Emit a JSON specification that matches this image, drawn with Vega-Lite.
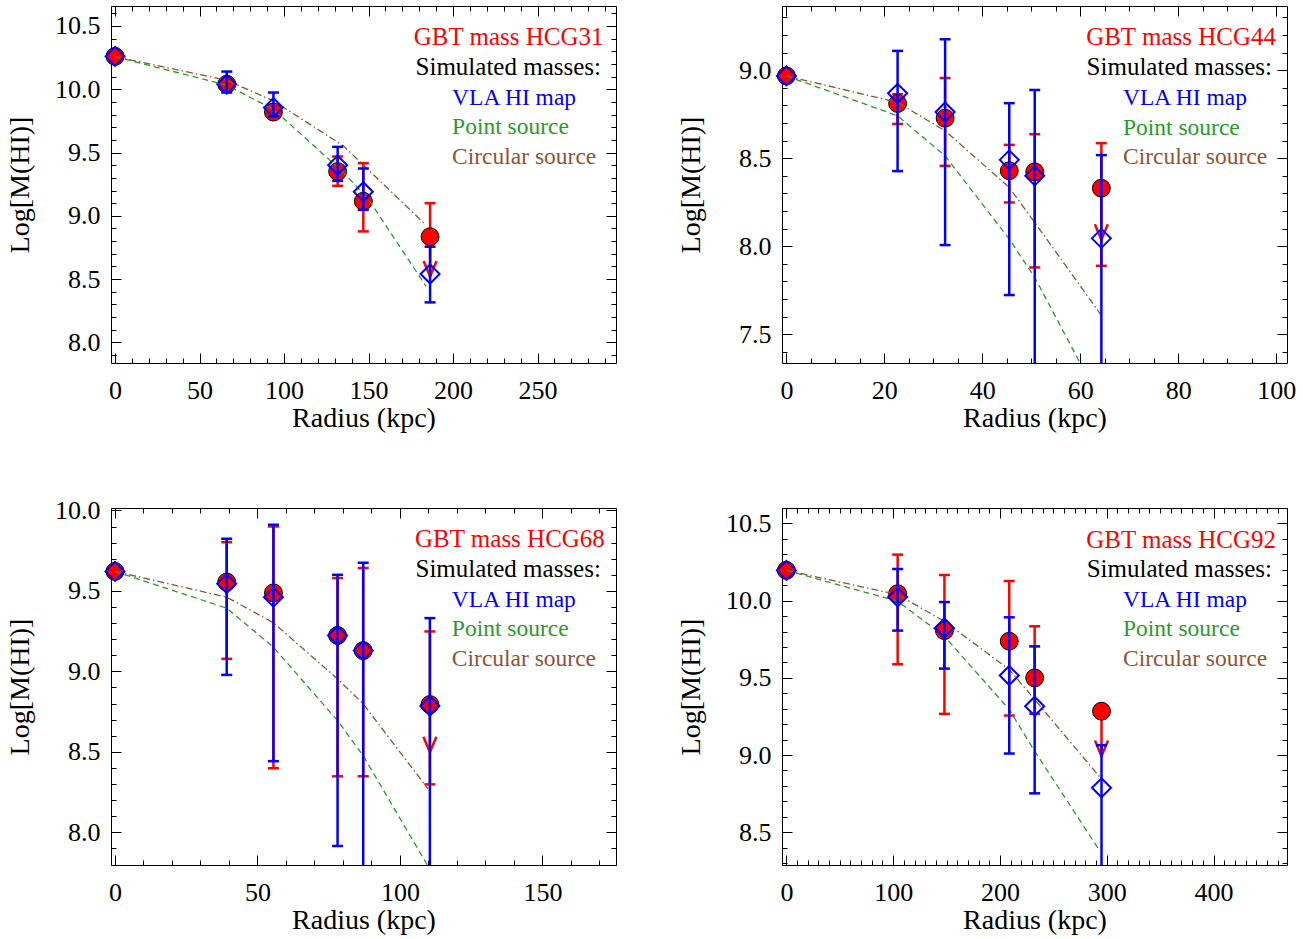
{
"$schema": "https://vega.github.io/schema/vega-lite/v6.json",
"background": "white",
"padding": {"left": 5, "top": 5, "right": 5, "bottom": 5},
"config": {
 "font": "Liberation Serif",
 "view": {"stroke": "black", "strokeWidth": 1},
 "style": {"guide-label": {"font": "Liberation Serif", "fontSize": 26, "fill": "black"}, "guide-title": {"font": "Liberation Serif", "fontSize": 28, "fill": "black"}},
 "axis": {"grid": false, "domain": false, "tickColor": "black", "tickWidth": 1, "labelFont": "Liberation Serif", "labelFontSize": 26, "labelColor": "black", "titleFont": "Liberation Serif", "titleFontSize": 28, "titleFontWeight": "normal", "titleColor": "black", "labelFlush": false, "labelOverlap": false}
},
"datasets": {
 "points": [
  {"g":"HCG31","src":"GBT","r":0,"y":10.26},{"g":"HCG31","src":"GBT","r":66.1,"y":10.04},{"g":"HCG31","src":"GBT","r":93.7,"y":9.82},{"g":"HCG31","src":"GBT","r":131.7,"y":9.35},{"g":"HCG31","src":"GBT","r":146.9,"y":9.115},{"g":"HCG31","src":"GBT","r":186.4,"y":8.835},
  {"g":"HCG31","src":"VLA","r":0,"y":10.26},{"g":"HCG31","src":"VLA","r":66.1,"y":10.04},{"g":"HCG31","src":"VLA","r":93.7,"y":9.855},{"g":"HCG31","src":"VLA","r":131.7,"y":9.40},{"g":"HCG31","src":"VLA","r":146.9,"y":9.19},{"g":"HCG31","src":"VLA","r":186.4,"y":8.54},
  {"g":"HCG44","src":"GBT","r":0,"y":8.968},{"g":"HCG44","src":"GBT","r":22.7,"y":8.811},{"g":"HCG44","src":"GBT","r":32.4,"y":8.728},{"g":"HCG44","src":"GBT","r":45.5,"y":8.429},{"g":"HCG44","src":"GBT","r":50.7,"y":8.423},{"g":"HCG44","src":"GBT","r":64.3,"y":8.33},
  {"g":"HCG44","src":"VLA","r":0,"y":8.968},{"g":"HCG44","src":"VLA","r":22.7,"y":8.869},{"g":"HCG44","src":"VLA","r":32.4,"y":8.763},{"g":"HCG44","src":"VLA","r":45.5,"y":8.491},{"g":"HCG44","src":"VLA","r":50.7,"y":8.40},{"g":"HCG44","src":"VLA","r":64.3,"y":8.045},
  {"g":"HCG68","src":"GBT","r":0,"y":9.621},{"g":"HCG68","src":"GBT","r":39.2,"y":9.555},{"g":"HCG68","src":"GBT","r":55.6,"y":9.488},{"g":"HCG68","src":"GBT","r":78.1,"y":9.223},{"g":"HCG68","src":"GBT","r":87.1,"y":9.129},{"g":"HCG68","src":"GBT","r":110.5,"y":8.794},
  {"g":"HCG68","src":"VLA","r":0,"y":9.621},{"g":"HCG68","src":"VLA","r":39.2,"y":9.545},{"g":"HCG68","src":"VLA","r":55.6,"y":9.461},{"g":"HCG68","src":"VLA","r":78.1,"y":9.223},{"g":"HCG68","src":"VLA","r":87.1,"y":9.129},{"g":"HCG68","src":"VLA","r":110.5,"y":8.785},
  {"g":"HCG92","src":"GBT","r":0,"y":10.196},{"g":"HCG92","src":"GBT","r":104.2,"y":10.045},{"g":"HCG92","src":"GBT","r":148,"y":9.806},{"g":"HCG92","src":"GBT","r":208.7,"y":9.737},{"g":"HCG92","src":"GBT","r":232.5,"y":9.5},{"g":"HCG92","src":"GBT","r":295.1,"y":9.284},
  {"g":"HCG92","src":"VLA","r":0,"y":10.196},{"g":"HCG92","src":"VLA","r":104.2,"y":10.024},{"g":"HCG92","src":"VLA","r":148,"y":9.823},{"g":"HCG92","src":"VLA","r":208.7,"y":9.515},{"g":"HCG92","src":"VLA","r":232.5,"y":9.316},{"g":"HCG92","src":"VLA","r":295.1,"y":8.788}
 ],
 "bars": [
  {"g":"HCG31","src":"GBT","r":131.7,"y":9.237,"y2":9.469},{"g":"HCG31","src":"GBT","r":146.9,"y":8.877,"y2":9.416},{"g":"HCG31","src":"GBT","r":186.4,"y":8.52,"y2":9.10},
  {"g":"HCG31","src":"VLA","r":66.1,"y":9.974,"y2":10.14},{"g":"HCG31","src":"VLA","r":93.7,"y":9.785,"y2":9.974},{"g":"HCG31","src":"VLA","r":131.7,"y":9.276,"y2":9.545},{"g":"HCG31","src":"VLA","r":146.9,"y":9.047,"y2":9.374},{"g":"HCG31","src":"VLA","r":186.4,"y":8.316,"y2":8.756},
  {"g":"HCG44","src":"GBT","r":22.7,"y":8.695,"y2":8.864},{"g":"HCG44","src":"GBT","r":32.4,"y":8.457,"y2":8.956},{"g":"HCG44","src":"GBT","r":45.5,"y":8.249,"y2":8.576},{"g":"HCG44","src":"GBT","r":50.7,"y":7.88,"y2":8.637},{"g":"HCG44","src":"GBT","r":64.3,"y":7.889,"y2":8.586},
  {"g":"HCG44","src":"VLA","r":22.7,"y":8.427,"y2":9.11},{"g":"HCG44","src":"VLA","r":32.4,"y":8.007,"y2":9.176},{"g":"HCG44","src":"VLA","r":45.5,"y":7.723,"y2":8.813},{"g":"HCG44","src":"VLA","r":50.7,"y":7.0,"y2":8.888},{"g":"HCG44","src":"VLA","r":64.3,"y":7.0,"y2":8.518},
  {"g":"HCG68","src":"GBT","r":39.2,"y":9.078,"y2":9.803},{"g":"HCG68","src":"GBT","r":55.6,"y":8.398,"y2":9.9},{"g":"HCG68","src":"GBT","r":78.1,"y":8.348,"y2":9.58},{"g":"HCG68","src":"GBT","r":87.1,"y":8.348,"y2":9.642},{"g":"HCG68","src":"GBT","r":110.5,"y":8.298,"y2":9.248},
  {"g":"HCG68","src":"VLA","r":39.2,"y":8.978,"y2":9.824},{"g":"HCG68","src":"VLA","r":55.6,"y":8.442,"y2":9.911},{"g":"HCG68","src":"VLA","r":78.1,"y":7.915,"y2":9.6},{"g":"HCG68","src":"VLA","r":87.1,"y":7.5,"y2":9.675},{"g":"HCG68","src":"VLA","r":110.5,"y":7.5,"y2":9.331},
  {"g":"HCG92","src":"GBT","r":104.2,"y":9.588,"y2":10.298},{"g":"HCG92","src":"GBT","r":148,"y":9.267,"y2":10.166},{"g":"HCG92","src":"GBT","r":208.7,"y":9.256,"y2":10.127},{"g":"HCG92","src":"GBT","r":232.5,"y":9.267,"y2":9.834},{"g":"HCG92","src":"GBT","r":295.1,"y":8.993,"y2":9.284},
  {"g":"HCG92","src":"VLA","r":104.2,"y":9.806,"y2":10.205},{"g":"HCG92","src":"VLA","r":148,"y":9.56,"y2":9.991},{"g":"HCG92","src":"VLA","r":208.7,"y":9.01,"y2":9.892},{"g":"HCG92","src":"VLA","r":232.5,"y":8.752,"y2":9.704},{"g":"HCG92","src":"VLA","r":295.1,"y":8.0,"y2":9.064}
 ],
 "caps": [
  {"g":"HCG31","src":"GBT","r":131.7,"y":9.237},{"g":"HCG31","src":"GBT","r":131.7,"y":9.469},{"g":"HCG31","src":"GBT","r":146.9,"y":8.877},{"g":"HCG31","src":"GBT","r":146.9,"y":9.416},{"g":"HCG31","src":"GBT","r":186.4,"y":9.10},
  {"g":"HCG31","src":"VLA","r":66.1,"y":9.974},{"g":"HCG31","src":"VLA","r":66.1,"y":10.14},{"g":"HCG31","src":"VLA","r":93.7,"y":9.785},{"g":"HCG31","src":"VLA","r":93.7,"y":9.974},{"g":"HCG31","src":"VLA","r":131.7,"y":9.276},{"g":"HCG31","src":"VLA","r":131.7,"y":9.545},{"g":"HCG31","src":"VLA","r":146.9,"y":9.047},{"g":"HCG31","src":"VLA","r":146.9,"y":9.374},{"g":"HCG31","src":"VLA","r":186.4,"y":8.316},{"g":"HCG31","src":"VLA","r":186.4,"y":8.756},
  {"g":"HCG44","src":"GBT","r":22.7,"y":8.695},{"g":"HCG44","src":"GBT","r":22.7,"y":8.864},{"g":"HCG44","src":"GBT","r":32.4,"y":8.457},{"g":"HCG44","src":"GBT","r":32.4,"y":8.956},{"g":"HCG44","src":"GBT","r":45.5,"y":8.249},{"g":"HCG44","src":"GBT","r":45.5,"y":8.576},{"g":"HCG44","src":"GBT","r":50.7,"y":7.88},{"g":"HCG44","src":"GBT","r":50.7,"y":8.637},{"g":"HCG44","src":"GBT","r":64.3,"y":7.889},{"g":"HCG44","src":"GBT","r":64.3,"y":8.586},
  {"g":"HCG44","src":"VLA","r":22.7,"y":8.427},{"g":"HCG44","src":"VLA","r":22.7,"y":9.11},{"g":"HCG44","src":"VLA","r":32.4,"y":8.007},{"g":"HCG44","src":"VLA","r":32.4,"y":9.176},{"g":"HCG44","src":"VLA","r":45.5,"y":7.723},{"g":"HCG44","src":"VLA","r":45.5,"y":8.813},{"g":"HCG44","src":"VLA","r":50.7,"y":8.888},{"g":"HCG44","src":"VLA","r":64.3,"y":8.518},
  {"g":"HCG68","src":"GBT","r":39.2,"y":9.078},{"g":"HCG68","src":"GBT","r":39.2,"y":9.803},{"g":"HCG68","src":"GBT","r":55.6,"y":8.398},{"g":"HCG68","src":"GBT","r":55.6,"y":9.9},{"g":"HCG68","src":"GBT","r":78.1,"y":8.348},{"g":"HCG68","src":"GBT","r":78.1,"y":9.58},{"g":"HCG68","src":"GBT","r":87.1,"y":8.348},{"g":"HCG68","src":"GBT","r":87.1,"y":9.642},{"g":"HCG68","src":"GBT","r":110.5,"y":8.298},{"g":"HCG68","src":"GBT","r":110.5,"y":9.248},
  {"g":"HCG68","src":"VLA","r":39.2,"y":8.978},{"g":"HCG68","src":"VLA","r":39.2,"y":9.824},{"g":"HCG68","src":"VLA","r":55.6,"y":8.442},{"g":"HCG68","src":"VLA","r":55.6,"y":9.911},{"g":"HCG68","src":"VLA","r":78.1,"y":7.915},{"g":"HCG68","src":"VLA","r":78.1,"y":9.6},{"g":"HCG68","src":"VLA","r":87.1,"y":9.675},{"g":"HCG68","src":"VLA","r":110.5,"y":9.331},
  {"g":"HCG92","src":"GBT","r":104.2,"y":9.588},{"g":"HCG92","src":"GBT","r":104.2,"y":10.298},{"g":"HCG92","src":"GBT","r":148,"y":9.267},{"g":"HCG92","src":"GBT","r":148,"y":10.166},{"g":"HCG92","src":"GBT","r":208.7,"y":9.256},{"g":"HCG92","src":"GBT","r":208.7,"y":10.127},{"g":"HCG92","src":"GBT","r":232.5,"y":9.267},{"g":"HCG92","src":"GBT","r":232.5,"y":9.834},
  {"g":"HCG92","src":"VLA","r":104.2,"y":9.806},{"g":"HCG92","src":"VLA","r":104.2,"y":10.205},{"g":"HCG92","src":"VLA","r":148,"y":9.56},{"g":"HCG92","src":"VLA","r":148,"y":9.991},{"g":"HCG92","src":"VLA","r":208.7,"y":9.01},{"g":"HCG92","src":"VLA","r":208.7,"y":9.892},{"g":"HCG92","src":"VLA","r":232.5,"y":8.752},{"g":"HCG92","src":"VLA","r":232.5,"y":9.704},{"g":"HCG92","src":"VLA","r":295.1,"y":9.064}
 ],
 "arrows": [
  {"g":"HCG31","r":186.4,"y":8.52},{"g":"HCG44","r":64.3,"y":8.037},{"g":"HCG68","r":110.5,"y":8.497},{"g":"HCG92","r":295.1,"y":8.993}
 ],
 "curves": [
  {"g":"HCG31","model":"circular","r":0,"y":10.258},{"g":"HCG31","model":"circular","r":66.1,"y":10.071},{"g":"HCG31","model":"circular","r":93.7,"y":9.908},{"g":"HCG31","model":"circular","r":135.1,"y":9.553},{"g":"HCG31","model":"circular","r":149.9,"y":9.363},{"g":"HCG31","model":"circular","r":183.4,"y":8.934},
  {"g":"HCG31","model":"point","r":0,"y":10.258},{"g":"HCG31","model":"point","r":66.1,"y":10.032},{"g":"HCG31","model":"point","r":93.7,"y":9.842},{"g":"HCG31","model":"point","r":135.1,"y":9.343},{"g":"HCG31","model":"point","r":149.9,"y":9.132},{"g":"HCG31","model":"point","r":184,"y":8.443},
  {"g":"HCG44","model":"circular","r":0,"y":8.968},{"g":"HCG44","model":"circular","r":22.7,"y":8.817},{"g":"HCG44","model":"circular","r":32.4,"y":8.656},{"g":"HCG44","model":"circular","r":45.5,"y":8.334},{"g":"HCG44","model":"circular","r":51.2,"y":8.116},{"g":"HCG44","model":"circular","r":64.1,"y":7.615},
  {"g":"HCG44","model":"point","r":0,"y":8.968},{"g":"HCG44","model":"point","r":22.7,"y":8.741},{"g":"HCG44","model":"point","r":32.4,"y":8.514},{"g":"HCG44","model":"point","r":45.5,"y":8.041},{"g":"HCG44","model":"point","r":50.7,"y":7.823},{"g":"HCG44","model":"point","r":64.1,"y":7.12},
  {"g":"HCG68","model":"circular","r":0,"y":9.621},{"g":"HCG68","model":"circular","r":39.2,"y":9.461},{"g":"HCG68","model":"circular","r":55.6,"y":9.302},{"g":"HCG68","model":"circular","r":78.1,"y":8.953},{"g":"HCG68","model":"circular","r":87.1,"y":8.798},{"g":"HCG68","model":"circular","r":109.9,"y":8.269},
  {"g":"HCG68","model":"point","r":0,"y":9.621},{"g":"HCG68","model":"point","r":39.2,"y":9.393},{"g":"HCG68","model":"point","r":55.6,"y":9.15},{"g":"HCG68","model":"point","r":78.1,"y":8.694},{"g":"HCG68","model":"point","r":87.1,"y":8.476},{"g":"HCG68","model":"point","r":110.5,"y":7.77},
  {"g":"HCG92","model":"circular","r":0,"y":10.196},{"g":"HCG92","model":"circular","r":104.2,"y":10.039},{"g":"HCG92","model":"circular","r":148,"y":9.866},{"g":"HCG92","model":"circular","r":208.7,"y":9.554},{"g":"HCG92","model":"circular","r":232.5,"y":9.36},{"g":"HCG92","model":"circular","r":294.1,"y":8.853},
  {"g":"HCG92","model":"point","r":0,"y":10.196},{"g":"HCG92","model":"point","r":104.2,"y":9.996},{"g":"HCG92","model":"point","r":148,"y":9.769},{"g":"HCG92","model":"point","r":208.7,"y":9.295},{"g":"HCG92","model":"point","r":232.5,"y":9.025},{"g":"HCG92","model":"point","r":292.6,"y":8.389}
 ]
},
"columns": 2,
"spacing": {"row": 145, "column": 166},
"bounds": "flush",
"concat": [
 {
  "width": 505, "height": 357,
  "resolve": {"axis": {"x": "independent", "y": "independent"}},
  "layer": [
   {"data": {"name": "bars"}, "transform": [{"filter": "datum.g==='HCG31' && datum.src==='GBT'"}],
    "mark": {"type": "rule", "color": "red", "strokeWidth": 2.5, "clip": true},
    "encoding": {
     "x": {"field": "r", "type": "quantitative", "scale": {"domain": [-2.4, 296.4], "nice": false, "zero": false}, "axis": {"orient": "bottom", "values": [0,50,100,150,200,250], "format": "d", "tickSize": -10, "labelPadding": 24, "title": "Radius (kpc)", "titlePadding": 11, "minExtent": 30, "maxExtent": 30}},
     "y": {"field": "y", "type": "quantitative", "scale": {"domain": [7.837, 10.658], "nice": false, "zero": false}, "axis": {"orient": "left", "values": [8.0,8.5,9.0,9.5,10.0,10.5], "format": ".1f", "tickSize": -10, "labelPadding": 21, "title": "Log[M(HI)]", "titlePadding": 19, "minExtent": 58, "maxExtent": 58}},
     "y2": {"field": "y2"}
    }},
   {"data": {"name": "caps"}, "transform": [{"filter": "datum.g==='HCG31' && datum.src==='GBT'"}],
    "mark": {"type": "tick", "orient": "horizontal", "color": "red", "size": 11, "thickness": 2.5, "opacity": 1, "clip": true},
    "encoding": {
     "x": {"field": "r", "type": "quantitative", "scale": {"domain": [-2.4, 296.4], "nice": false, "zero": false}, "axis": {"orient": "bottom", "values": [0,10,20,30,40,50,60,70,80,90,100,110,120,130,140,150,160,170,180,190,200,210,220,230,240,250,260,270,280,290], "tickSize": -5, "labels": false, "title": null}},
     "y": {"field": "y", "type": "quantitative", "scale": {"domain": [7.837, 10.658], "nice": false, "zero": false}, "axis": {"orient": "left", "values": [7.9,8.0,8.1,8.2,8.3,8.4,8.5,8.6,8.7,8.8,8.9,9.0,9.1,9.2,9.3,9.4,9.5,9.6,9.7,9.8,9.9,10.0,10.1,10.2,10.3,10.4,10.5,10.6], "tickSize": -5, "labels": false, "title": null}}
    }},
   {"data": {"name": "arrows"}, "transform": [{"filter": "datum.g==='HCG31'"}],
    "mark": {"type": "point", "shape": "M-1,-2.4L0,0L1,-2.4", "filled": false, "stroke": "red", "strokeWidth": 2.5, "size": 169, "opacity": 1},
    "encoding": {
     "x": {"field": "r", "type": "quantitative", "scale": {"domain": [-2.4, 296.4], "nice": false, "zero": false}, "axis": {"orient": "top", "values": [0,50,100,150,200,250], "tickSize": -10, "labels": false, "title": null}},
     "y": {"field": "y", "type": "quantitative", "scale": {"domain": [7.837, 10.658], "nice": false, "zero": false}, "axis": {"orient": "right", "values": [8.0,8.5,9.0,9.5,10.0,10.5], "tickSize": -10, "labels": false, "title": null}}
    }},
   {"data": {"name": "points"}, "transform": [{"filter": "datum.g==='HCG31' && datum.src==='GBT'"}],
    "mark": {"type": "point", "shape": "circle", "filled": true, "fill": "red", "stroke": "black", "strokeWidth": 1, "size": 320, "opacity": 1},
    "encoding": {
     "x": {"field": "r", "type": "quantitative", "scale": {"domain": [-2.4, 296.4], "nice": false, "zero": false}, "axis": {"orient": "top", "values": [0,10,20,30,40,50,60,70,80,90,100,110,120,130,140,150,160,170,180,190,200,210,220,230,240,250,260,270,280,290], "tickSize": -5, "labels": false, "title": null}},
     "y": {"field": "y", "type": "quantitative", "scale": {"domain": [7.837, 10.658], "nice": false, "zero": false}, "axis": {"orient": "right", "values": [7.9,8.0,8.1,8.2,8.3,8.4,8.5,8.6,8.7,8.8,8.9,9.0,9.1,9.2,9.3,9.4,9.5,9.6,9.7,9.8,9.9,10.0,10.1,10.2,10.3,10.4,10.5,10.6], "tickSize": -5, "labels": false, "title": null}}
    }},
   {"data": {"name": "curves"}, "transform": [{"filter": "datum.g==='HCG31' && datum.model==='point'"}],
    "mark": {"type": "line", "color": "#2a9a2a", "strokeWidth": 1.3, "strokeDash": [6, 4], "clip": true},
    "encoding": {"x": {"field": "r", "type": "quantitative", "scale": {"domain": [-2.4, 296.4], "nice": false, "zero": false}, "axis": null}, "y": {"field": "y", "type": "quantitative", "scale": {"domain": [7.837, 10.658], "nice": false, "zero": false}, "axis": null}}},
   {"data": {"name": "curves"}, "transform": [{"filter": "datum.g==='HCG31' && datum.model==='circular'"}],
    "mark": {"type": "line", "color": "#8e5434", "strokeWidth": 1.3, "strokeDash": [7, 3, 1.5, 3], "clip": true},
    "encoding": {"x": {"field": "r", "type": "quantitative", "scale": {"domain": [-2.4, 296.4], "nice": false, "zero": false}, "axis": null}, "y": {"field": "y", "type": "quantitative", "scale": {"domain": [7.837, 10.658], "nice": false, "zero": false}, "axis": null}}},
   {"data": {"name": "bars"}, "transform": [{"filter": "datum.g==='HCG31' && datum.src==='VLA'"}],
    "mark": {"type": "rule", "color": "blue", "strokeWidth": 2.5, "clip": true},
    "encoding": {"x": {"field": "r", "type": "quantitative", "scale": {"domain": [-2.4, 296.4], "nice": false, "zero": false}, "axis": null}, "y": {"field": "y", "type": "quantitative", "scale": {"domain": [7.837, 10.658], "nice": false, "zero": false}, "axis": null}, "y2": {"field": "y2"}}},
   {"data": {"name": "caps"}, "transform": [{"filter": "datum.g==='HCG31' && datum.src==='VLA'"}],
    "mark": {"type": "tick", "orient": "horizontal", "color": "blue", "size": 11, "thickness": 2.5, "opacity": 1, "clip": true},
    "encoding": {"x": {"field": "r", "type": "quantitative", "scale": {"domain": [-2.4, 296.4], "nice": false, "zero": false}, "axis": null}, "y": {"field": "y", "type": "quantitative", "scale": {"domain": [7.837, 10.658], "nice": false, "zero": false}, "axis": null}}},
   {"data": {"name": "points"}, "transform": [{"filter": "datum.g==='HCG31' && datum.src==='VLA'"}],
    "mark": {"type": "point", "shape": "diamond", "filled": false, "stroke": "blue", "strokeWidth": 2, "size": 361, "opacity": 1},
    "encoding": {"x": {"field": "r", "type": "quantitative", "scale": {"domain": [-2.4, 296.4], "nice": false, "zero": false}, "axis": null}, "y": {"field": "y", "type": "quantitative", "scale": {"domain": [7.837, 10.658], "nice": false, "zero": false}, "axis": null}}},
   {"data": {"values": [{"label": "GBT mass HCG31"}]},
    "mark": {"type": "text", "align": "right", "baseline": "alphabetic", "font": "Liberation Serif", "fontSize": 25, "fill": "red"},
    "encoding": {"x": {"datum": 289.0, "type": "quantitative", "axis": null}, "y": {"datum": 10.346, "type": "quantitative", "axis": null}, "text": {"field": "label", "type": "nominal"}}},
   {"data": {"values": [{"label": "Simulated masses:"}]},
    "mark": {"type": "text", "align": "right", "baseline": "alphabetic", "font": "Liberation Serif", "fontSize": 25, "fill": "black"},
    "encoding": {"x": {"datum": 287.5, "type": "quantitative", "axis": null}, "y": {"datum": 10.113, "type": "quantitative", "axis": null}, "text": {"field": "label", "type": "nominal"}}},
   {"data": {"values": [{"label": "VLA HI map"}]},
    "mark": {"type": "text", "align": "left", "baseline": "alphabetic", "font": "Liberation Serif", "fontSize": 23.5, "fill": "blue"},
    "encoding": {"x": {"datum": 199.4, "type": "quantitative", "axis": null}, "y": {"datum": 9.876, "type": "quantitative", "axis": null}, "text": {"field": "label", "type": "nominal"}}},
   {"data": {"values": [{"label": "Point source"}]},
    "mark": {"type": "text", "align": "left", "baseline": "alphabetic", "font": "Liberation Serif", "fontSize": 23.5, "fill": "#2a9a2a"},
    "encoding": {"x": {"datum": 199.4, "type": "quantitative", "axis": null}, "y": {"datum": 9.643, "type": "quantitative", "axis": null}, "text": {"field": "label", "type": "nominal"}}},
   {"data": {"values": [{"label": "Circular source"}]},
    "mark": {"type": "text", "align": "left", "baseline": "alphabetic", "font": "Liberation Serif", "fontSize": 23.5, "fill": "#8e5434"},
    "encoding": {"x": {"datum": 199.4, "type": "quantitative", "axis": null}, "y": {"datum": 9.409, "type": "quantitative", "axis": null}, "text": {"field": "label", "type": "nominal"}}}
  ]
 },
 {
  "width": 505, "height": 357,
  "resolve": {"axis": {"x": "independent", "y": "independent"}},
  "layer": [
   {"data": {"name": "bars"}, "transform": [{"filter": "datum.g==='HCG44' && datum.src==='GBT'"}],
    "mark": {"type": "rule", "color": "red", "strokeWidth": 2.5, "clip": true},
    "encoding": {
     "x": {"field": "r", "type": "quantitative", "scale": {"domain": [-0.9, 102.2], "nice": false, "zero": false}, "axis": {"orient": "bottom", "values": [0,20,40,60,80,100], "format": "d", "tickSize": -10, "labelPadding": 24, "title": "Radius (kpc)", "titlePadding": 11, "minExtent": 30, "maxExtent": 30}},
     "y": {"field": "y", "type": "quantitative", "scale": {"domain": [7.337, 9.365], "nice": false, "zero": false}, "axis": {"orient": "left", "values": [7.5,8.0,8.5,9.0], "format": ".1f", "tickSize": -10, "labelPadding": 21, "title": "Log[M(HI)]", "titlePadding": 19, "minExtent": 58, "maxExtent": 58}},
     "y2": {"field": "y2"}
    }},
   {"data": {"name": "caps"}, "transform": [{"filter": "datum.g==='HCG44' && datum.src==='GBT'"}],
    "mark": {"type": "tick", "orient": "horizontal", "color": "red", "size": 11, "thickness": 2.5, "opacity": 1, "clip": true},
    "encoding": {
     "x": {"field": "r", "type": "quantitative", "scale": {"domain": [-0.9, 102.2], "nice": false, "zero": false}, "axis": {"orient": "bottom", "values": [0,5,10,15,20,25,30,35,40,45,50,55,60,65,70,75,80,85,90,95,100], "tickSize": -5, "labels": false, "title": null}},
     "y": {"field": "y", "type": "quantitative", "scale": {"domain": [7.337, 9.365], "nice": false, "zero": false}, "axis": {"orient": "left", "values": [7.4,7.5,7.6,7.7,7.8,7.9,8.0,8.1,8.2,8.3,8.4,8.5,8.6,8.7,8.8,8.9,9.0,9.1,9.2,9.3], "tickSize": -5, "labels": false, "title": null}}
    }},
   {"data": {"name": "arrows"}, "transform": [{"filter": "datum.g==='HCG44'"}],
    "mark": {"type": "point", "shape": "M-1,-2.4L0,0L1,-2.4", "filled": false, "stroke": "red", "strokeWidth": 2.5, "size": 169, "opacity": 1},
    "encoding": {
     "x": {"field": "r", "type": "quantitative", "scale": {"domain": [-0.9, 102.2], "nice": false, "zero": false}, "axis": {"orient": "top", "values": [0,20,40,60,80,100], "tickSize": -10, "labels": false, "title": null}},
     "y": {"field": "y", "type": "quantitative", "scale": {"domain": [7.337, 9.365], "nice": false, "zero": false}, "axis": {"orient": "right", "values": [7.5,8.0,8.5,9.0], "tickSize": -10, "labels": false, "title": null}}
    }},
   {"data": {"name": "points"}, "transform": [{"filter": "datum.g==='HCG44' && datum.src==='GBT'"}],
    "mark": {"type": "point", "shape": "circle", "filled": true, "fill": "red", "stroke": "black", "strokeWidth": 1, "size": 320, "opacity": 1},
    "encoding": {
     "x": {"field": "r", "type": "quantitative", "scale": {"domain": [-0.9, 102.2], "nice": false, "zero": false}, "axis": {"orient": "top", "values": [0,5,10,15,20,25,30,35,40,45,50,55,60,65,70,75,80,85,90,95,100], "tickSize": -5, "labels": false, "title": null}},
     "y": {"field": "y", "type": "quantitative", "scale": {"domain": [7.337, 9.365], "nice": false, "zero": false}, "axis": {"orient": "right", "values": [7.4,7.5,7.6,7.7,7.8,7.9,8.0,8.1,8.2,8.3,8.4,8.5,8.6,8.7,8.8,8.9,9.0,9.1,9.2,9.3], "tickSize": -5, "labels": false, "title": null}}
    }},
   {"data": {"name": "curves"}, "transform": [{"filter": "datum.g==='HCG44' && datum.model==='point'"}],
    "mark": {"type": "line", "color": "#2a9a2a", "strokeWidth": 1.3, "strokeDash": [6, 4], "clip": true},
    "encoding": {"x": {"field": "r", "type": "quantitative", "scale": {"domain": [-0.9, 102.2], "nice": false, "zero": false}, "axis": null}, "y": {"field": "y", "type": "quantitative", "scale": {"domain": [7.337, 9.365], "nice": false, "zero": false}, "axis": null}}},
   {"data": {"name": "curves"}, "transform": [{"filter": "datum.g==='HCG44' && datum.model==='circular'"}],
    "mark": {"type": "line", "color": "#8e5434", "strokeWidth": 1.3, "strokeDash": [7, 3, 1.5, 3], "clip": true},
    "encoding": {"x": {"field": "r", "type": "quantitative", "scale": {"domain": [-0.9, 102.2], "nice": false, "zero": false}, "axis": null}, "y": {"field": "y", "type": "quantitative", "scale": {"domain": [7.337, 9.365], "nice": false, "zero": false}, "axis": null}}},
   {"data": {"name": "bars"}, "transform": [{"filter": "datum.g==='HCG44' && datum.src==='VLA'"}],
    "mark": {"type": "rule", "color": "blue", "strokeWidth": 2.5, "clip": true},
    "encoding": {"x": {"field": "r", "type": "quantitative", "scale": {"domain": [-0.9, 102.2], "nice": false, "zero": false}, "axis": null}, "y": {"field": "y", "type": "quantitative", "scale": {"domain": [7.337, 9.365], "nice": false, "zero": false}, "axis": null}, "y2": {"field": "y2"}}},
   {"data": {"name": "caps"}, "transform": [{"filter": "datum.g==='HCG44' && datum.src==='VLA'"}],
    "mark": {"type": "tick", "orient": "horizontal", "color": "blue", "size": 11, "thickness": 2.5, "opacity": 1, "clip": true},
    "encoding": {"x": {"field": "r", "type": "quantitative", "scale": {"domain": [-0.9, 102.2], "nice": false, "zero": false}, "axis": null}, "y": {"field": "y", "type": "quantitative", "scale": {"domain": [7.337, 9.365], "nice": false, "zero": false}, "axis": null}}},
   {"data": {"name": "points"}, "transform": [{"filter": "datum.g==='HCG44' && datum.src==='VLA'"}],
    "mark": {"type": "point", "shape": "diamond", "filled": false, "stroke": "blue", "strokeWidth": 2, "size": 361, "opacity": 1},
    "encoding": {"x": {"field": "r", "type": "quantitative", "scale": {"domain": [-0.9, 102.2], "nice": false, "zero": false}, "axis": null}, "y": {"field": "y", "type": "quantitative", "scale": {"domain": [7.337, 9.365], "nice": false, "zero": false}, "axis": null}}},
   {"data": {"values": [{"label": "GBT mass HCG44"}]},
    "mark": {"type": "text", "align": "right", "baseline": "alphabetic", "font": "Liberation Serif", "fontSize": 25, "fill": "red"},
    "encoding": {"x": {"datum": 99.95, "type": "quantitative", "axis": null}, "y": {"datum": 9.141, "type": "quantitative", "axis": null}, "text": {"field": "label", "type": "nominal"}}},
   {"data": {"values": [{"label": "Simulated masses:"}]},
    "mark": {"type": "text", "align": "right", "baseline": "alphabetic", "font": "Liberation Serif", "fontSize": 25, "fill": "black"},
    "encoding": {"x": {"datum": 99.14, "type": "quantitative", "axis": null}, "y": {"datum": 8.973, "type": "quantitative", "axis": null}, "text": {"field": "label", "type": "nominal"}}},
   {"data": {"values": [{"label": "VLA HI map"}]},
    "mark": {"type": "text", "align": "left", "baseline": "alphabetic", "font": "Liberation Serif", "fontSize": 23.5, "fill": "blue"},
    "encoding": {"x": {"datum": 68.71, "type": "quantitative", "axis": null}, "y": {"datum": 8.803, "type": "quantitative", "axis": null}, "text": {"field": "label", "type": "nominal"}}},
   {"data": {"values": [{"label": "Point source"}]},
    "mark": {"type": "text", "align": "left", "baseline": "alphabetic", "font": "Liberation Serif", "fontSize": 23.5, "fill": "#2a9a2a"},
    "encoding": {"x": {"datum": 68.71, "type": "quantitative", "axis": null}, "y": {"datum": 8.635, "type": "quantitative", "axis": null}, "text": {"field": "label", "type": "nominal"}}},
   {"data": {"values": [{"label": "Circular source"}]},
    "mark": {"type": "text", "align": "left", "baseline": "alphabetic", "font": "Liberation Serif", "fontSize": 23.5, "fill": "#8e5434"},
    "encoding": {"x": {"datum": 68.71, "type": "quantitative", "axis": null}, "y": {"datum": 8.468, "type": "quantitative", "axis": null}, "text": {"field": "label", "type": "nominal"}}}
  ]
 },
 {
  "width": 505, "height": 357,
  "resolve": {"axis": {"x": "independent", "y": "independent"}},
  "layer": [
   {"data": {"name": "bars"}, "transform": [{"filter": "datum.g==='HCG68' && datum.src==='GBT'"}],
    "mark": {"type": "rule", "color": "red", "strokeWidth": 2.5, "clip": true},
    "encoding": {
     "x": {"field": "r", "type": "quantitative", "scale": {"domain": [-1.4, 175.8], "nice": false, "zero": false}, "axis": {"orient": "bottom", "values": [0,50,100,150], "format": "d", "tickSize": -10, "labelPadding": 24, "title": "Radius (kpc)", "titlePadding": 11, "minExtent": 30, "maxExtent": 30}},
     "y": {"field": "y", "type": "quantitative", "scale": {"domain": [7.797, 10.015], "nice": false, "zero": false}, "axis": {"orient": "left", "values": [8.0,8.5,9.0,9.5,10.0], "format": ".1f", "tickSize": -10, "labelPadding": 21, "title": "Log[M(HI)]", "titlePadding": 19, "minExtent": 58, "maxExtent": 58}},
     "y2": {"field": "y2"}
    }},
   {"data": {"name": "caps"}, "transform": [{"filter": "datum.g==='HCG68' && datum.src==='GBT'"}],
    "mark": {"type": "tick", "orient": "horizontal", "color": "red", "size": 11, "thickness": 2.5, "opacity": 1, "clip": true},
    "encoding": {
     "x": {"field": "r", "type": "quantitative", "scale": {"domain": [-1.4, 175.8], "nice": false, "zero": false}, "axis": {"orient": "bottom", "values": [0,10,20,30,40,50,60,70,80,90,100,110,120,130,140,150,160,170], "tickSize": -5, "labels": false, "title": null}},
     "y": {"field": "y", "type": "quantitative", "scale": {"domain": [7.797, 10.015], "nice": false, "zero": false}, "axis": {"orient": "left", "values": [7.8,7.9,8.0,8.1,8.2,8.3,8.4,8.5,8.6,8.7,8.8,8.9,9.0,9.1,9.2,9.3,9.4,9.5,9.6,9.7,9.8,9.9,10.0], "tickSize": -5, "labels": false, "title": null}}
    }},
   {"data": {"name": "arrows"}, "transform": [{"filter": "datum.g==='HCG68'"}],
    "mark": {"type": "point", "shape": "M-1,-2.4L0,0L1,-2.4", "filled": false, "stroke": "red", "strokeWidth": 2.5, "size": 169, "opacity": 1},
    "encoding": {
     "x": {"field": "r", "type": "quantitative", "scale": {"domain": [-1.4, 175.8], "nice": false, "zero": false}, "axis": {"orient": "top", "values": [0,50,100,150], "tickSize": -10, "labels": false, "title": null}},
     "y": {"field": "y", "type": "quantitative", "scale": {"domain": [7.797, 10.015], "nice": false, "zero": false}, "axis": {"orient": "right", "values": [8.0,8.5,9.0,9.5,10.0], "tickSize": -10, "labels": false, "title": null}}
    }},
   {"data": {"name": "points"}, "transform": [{"filter": "datum.g==='HCG68' && datum.src==='GBT'"}],
    "mark": {"type": "point", "shape": "circle", "filled": true, "fill": "red", "stroke": "black", "strokeWidth": 1, "size": 320, "opacity": 1},
    "encoding": {
     "x": {"field": "r", "type": "quantitative", "scale": {"domain": [-1.4, 175.8], "nice": false, "zero": false}, "axis": {"orient": "top", "values": [0,10,20,30,40,50,60,70,80,90,100,110,120,130,140,150,160,170], "tickSize": -5, "labels": false, "title": null}},
     "y": {"field": "y", "type": "quantitative", "scale": {"domain": [7.797, 10.015], "nice": false, "zero": false}, "axis": {"orient": "right", "values": [7.8,7.9,8.0,8.1,8.2,8.3,8.4,8.5,8.6,8.7,8.8,8.9,9.0,9.1,9.2,9.3,9.4,9.5,9.6,9.7,9.8,9.9,10.0], "tickSize": -5, "labels": false, "title": null}}
    }},
   {"data": {"name": "curves"}, "transform": [{"filter": "datum.g==='HCG68' && datum.model==='point'"}],
    "mark": {"type": "line", "color": "#2a9a2a", "strokeWidth": 1.3, "strokeDash": [6, 4], "clip": true},
    "encoding": {"x": {"field": "r", "type": "quantitative", "scale": {"domain": [-1.4, 175.8], "nice": false, "zero": false}, "axis": null}, "y": {"field": "y", "type": "quantitative", "scale": {"domain": [7.797, 10.015], "nice": false, "zero": false}, "axis": null}}},
   {"data": {"name": "curves"}, "transform": [{"filter": "datum.g==='HCG68' && datum.model==='circular'"}],
    "mark": {"type": "line", "color": "#8e5434", "strokeWidth": 1.3, "strokeDash": [7, 3, 1.5, 3], "clip": true},
    "encoding": {"x": {"field": "r", "type": "quantitative", "scale": {"domain": [-1.4, 175.8], "nice": false, "zero": false}, "axis": null}, "y": {"field": "y", "type": "quantitative", "scale": {"domain": [7.797, 10.015], "nice": false, "zero": false}, "axis": null}}},
   {"data": {"name": "bars"}, "transform": [{"filter": "datum.g==='HCG68' && datum.src==='VLA'"}],
    "mark": {"type": "rule", "color": "blue", "strokeWidth": 2.5, "clip": true},
    "encoding": {"x": {"field": "r", "type": "quantitative", "scale": {"domain": [-1.4, 175.8], "nice": false, "zero": false}, "axis": null}, "y": {"field": "y", "type": "quantitative", "scale": {"domain": [7.797, 10.015], "nice": false, "zero": false}, "axis": null}, "y2": {"field": "y2"}}},
   {"data": {"name": "caps"}, "transform": [{"filter": "datum.g==='HCG68' && datum.src==='VLA'"}],
    "mark": {"type": "tick", "orient": "horizontal", "color": "blue", "size": 11, "thickness": 2.5, "opacity": 1, "clip": true},
    "encoding": {"x": {"field": "r", "type": "quantitative", "scale": {"domain": [-1.4, 175.8], "nice": false, "zero": false}, "axis": null}, "y": {"field": "y", "type": "quantitative", "scale": {"domain": [7.797, 10.015], "nice": false, "zero": false}, "axis": null}}},
   {"data": {"name": "points"}, "transform": [{"filter": "datum.g==='HCG68' && datum.src==='VLA'"}],
    "mark": {"type": "point", "shape": "diamond", "filled": false, "stroke": "blue", "strokeWidth": 2, "size": 361, "opacity": 1},
    "encoding": {"x": {"field": "r", "type": "quantitative", "scale": {"domain": [-1.4, 175.8], "nice": false, "zero": false}, "axis": null}, "y": {"field": "y", "type": "quantitative", "scale": {"domain": [7.797, 10.015], "nice": false, "zero": false}, "axis": null}}},
   {"data": {"values": [{"label": "GBT mass HCG68"}]},
    "mark": {"type": "text", "align": "right", "baseline": "alphabetic", "font": "Liberation Serif", "fontSize": 25, "fill": "red"},
    "encoding": {"x": {"datum": 171.9, "type": "quantitative", "axis": null}, "y": {"datum": 9.770, "type": "quantitative", "axis": null}, "text": {"field": "label", "type": "nominal"}}},
   {"data": {"values": [{"label": "Simulated masses:"}]},
    "mark": {"type": "text", "align": "right", "baseline": "alphabetic", "font": "Liberation Serif", "fontSize": 25, "fill": "black"},
    "encoding": {"x": {"datum": 170.5, "type": "quantitative", "axis": null}, "y": {"datum": 9.587, "type": "quantitative", "axis": null}, "text": {"field": "label", "type": "nominal"}}},
   {"data": {"values": [{"label": "VLA HI map"}]},
    "mark": {"type": "text", "align": "left", "baseline": "alphabetic", "font": "Liberation Serif", "fontSize": 23.5, "fill": "blue"},
    "encoding": {"x": {"datum": 118.2, "type": "quantitative", "axis": null}, "y": {"datum": 9.400, "type": "quantitative", "axis": null}, "text": {"field": "label", "type": "nominal"}}},
   {"data": {"values": [{"label": "Point source"}]},
    "mark": {"type": "text", "align": "left", "baseline": "alphabetic", "font": "Liberation Serif", "fontSize": 23.5, "fill": "#2a9a2a"},
    "encoding": {"x": {"datum": 118.2, "type": "quantitative", "axis": null}, "y": {"datum": 9.217, "type": "quantitative", "axis": null}, "text": {"field": "label", "type": "nominal"}}},
   {"data": {"values": [{"label": "Circular source"}]},
    "mark": {"type": "text", "align": "left", "baseline": "alphabetic", "font": "Liberation Serif", "fontSize": 23.5, "fill": "#8e5434"},
    "encoding": {"x": {"datum": 118.2, "type": "quantitative", "axis": null}, "y": {"datum": 9.034, "type": "quantitative", "axis": null}, "text": {"field": "label", "type": "nominal"}}}
  ]
 },
 {
  "width": 505, "height": 357,
  "resolve": {"axis": {"x": "independent", "y": "independent"}},
  "layer": [
   {"data": {"name": "bars"}, "transform": [{"filter": "datum.g==='HCG92' && datum.src==='GBT'"}],
    "mark": {"type": "rule", "color": "red", "strokeWidth": 2.5, "clip": true},
    "encoding": {
     "x": {"field": "r", "type": "quantitative", "scale": {"domain": [-4.1, 468.8], "nice": false, "zero": false}, "axis": {"orient": "bottom", "values": [0,100,200,300,400], "format": "d", "tickSize": -10, "labelPadding": 24, "title": "Radius (kpc)", "titlePadding": 11, "minExtent": 30, "maxExtent": 30}},
     "y": {"field": "y", "type": "quantitative", "scale": {"domain": [8.288, 10.6], "nice": false, "zero": false}, "axis": {"orient": "left", "values": [8.5,9.0,9.5,10.0,10.5], "format": ".1f", "tickSize": -10, "labelPadding": 21, "title": "Log[M(HI)]", "titlePadding": 19, "minExtent": 58, "maxExtent": 58}},
     "y2": {"field": "y2"}
    }},
   {"data": {"name": "caps"}, "transform": [{"filter": "datum.g==='HCG92' && datum.src==='GBT'"}],
    "mark": {"type": "tick", "orient": "horizontal", "color": "red", "size": 11, "thickness": 2.5, "opacity": 1, "clip": true},
    "encoding": {
     "x": {"field": "r", "type": "quantitative", "scale": {"domain": [-4.1, 468.8], "nice": false, "zero": false}, "axis": {"orient": "bottom", "values": [0,10,20,30,40,50,60,70,80,90,100,110,120,130,140,150,160,170,180,190,200,210,220,230,240,250,260,270,280,290,300,310,320,330,340,350,360,370,380,390,400,410,420,430,440,450,460], "tickSize": -5, "labels": false, "title": null}},
     "y": {"field": "y", "type": "quantitative", "scale": {"domain": [8.288, 10.6], "nice": false, "zero": false}, "axis": {"orient": "left", "values": [8.3,8.4,8.5,8.6,8.7,8.8,8.9,9.0,9.1,9.2,9.3,9.4,9.5,9.6,9.7,9.8,9.9,10.0,10.1,10.2,10.3,10.4,10.5,10.6], "tickSize": -5, "labels": false, "title": null}}
    }},
   {"data": {"name": "arrows"}, "transform": [{"filter": "datum.g==='HCG92'"}],
    "mark": {"type": "point", "shape": "M-1,-2.4L0,0L1,-2.4", "filled": false, "stroke": "red", "strokeWidth": 2.5, "size": 169, "opacity": 1},
    "encoding": {
     "x": {"field": "r", "type": "quantitative", "scale": {"domain": [-4.1, 468.8], "nice": false, "zero": false}, "axis": {"orient": "top", "values": [0,100,200,300,400], "tickSize": -10, "labels": false, "title": null}},
     "y": {"field": "y", "type": "quantitative", "scale": {"domain": [8.288, 10.6], "nice": false, "zero": false}, "axis": {"orient": "right", "values": [8.5,9.0,9.5,10.0,10.5], "tickSize": -10, "labels": false, "title": null}}
    }},
   {"data": {"name": "points"}, "transform": [{"filter": "datum.g==='HCG92' && datum.src==='GBT'"}],
    "mark": {"type": "point", "shape": "circle", "filled": true, "fill": "red", "stroke": "black", "strokeWidth": 1, "size": 320, "opacity": 1},
    "encoding": {
     "x": {"field": "r", "type": "quantitative", "scale": {"domain": [-4.1, 468.8], "nice": false, "zero": false}, "axis": {"orient": "top", "values": [0,10,20,30,40,50,60,70,80,90,100,110,120,130,140,150,160,170,180,190,200,210,220,230,240,250,260,270,280,290,300,310,320,330,340,350,360,370,380,390,400,410,420,430,440,450,460], "tickSize": -5, "labels": false, "title": null}},
     "y": {"field": "y", "type": "quantitative", "scale": {"domain": [8.288, 10.6], "nice": false, "zero": false}, "axis": {"orient": "right", "values": [8.3,8.4,8.5,8.6,8.7,8.8,8.9,9.0,9.1,9.2,9.3,9.4,9.5,9.6,9.7,9.8,9.9,10.0,10.1,10.2,10.3,10.4,10.5,10.6], "tickSize": -5, "labels": false, "title": null}}
    }},
   {"data": {"name": "curves"}, "transform": [{"filter": "datum.g==='HCG92' && datum.model==='point'"}],
    "mark": {"type": "line", "color": "#2a9a2a", "strokeWidth": 1.3, "strokeDash": [6, 4], "clip": true},
    "encoding": {"x": {"field": "r", "type": "quantitative", "scale": {"domain": [-4.1, 468.8], "nice": false, "zero": false}, "axis": null}, "y": {"field": "y", "type": "quantitative", "scale": {"domain": [8.288, 10.6], "nice": false, "zero": false}, "axis": null}}},
   {"data": {"name": "curves"}, "transform": [{"filter": "datum.g==='HCG92' && datum.model==='circular'"}],
    "mark": {"type": "line", "color": "#8e5434", "strokeWidth": 1.3, "strokeDash": [7, 3, 1.5, 3], "clip": true},
    "encoding": {"x": {"field": "r", "type": "quantitative", "scale": {"domain": [-4.1, 468.8], "nice": false, "zero": false}, "axis": null}, "y": {"field": "y", "type": "quantitative", "scale": {"domain": [8.288, 10.6], "nice": false, "zero": false}, "axis": null}}},
   {"data": {"name": "bars"}, "transform": [{"filter": "datum.g==='HCG92' && datum.src==='VLA'"}],
    "mark": {"type": "rule", "color": "blue", "strokeWidth": 2.5, "clip": true},
    "encoding": {"x": {"field": "r", "type": "quantitative", "scale": {"domain": [-4.1, 468.8], "nice": false, "zero": false}, "axis": null}, "y": {"field": "y", "type": "quantitative", "scale": {"domain": [8.288, 10.6], "nice": false, "zero": false}, "axis": null}, "y2": {"field": "y2"}}},
   {"data": {"name": "caps"}, "transform": [{"filter": "datum.g==='HCG92' && datum.src==='VLA'"}],
    "mark": {"type": "tick", "orient": "horizontal", "color": "blue", "size": 11, "thickness": 2.5, "opacity": 1, "clip": true},
    "encoding": {"x": {"field": "r", "type": "quantitative", "scale": {"domain": [-4.1, 468.8], "nice": false, "zero": false}, "axis": null}, "y": {"field": "y", "type": "quantitative", "scale": {"domain": [8.288, 10.6], "nice": false, "zero": false}, "axis": null}}},
   {"data": {"name": "points"}, "transform": [{"filter": "datum.g==='HCG92' && datum.src==='VLA'"}],
    "mark": {"type": "point", "shape": "diamond", "filled": false, "stroke": "blue", "strokeWidth": 2, "size": 361, "opacity": 1},
    "encoding": {"x": {"field": "r", "type": "quantitative", "scale": {"domain": [-4.1, 468.8], "nice": false, "zero": false}, "axis": null}, "y": {"field": "y", "type": "quantitative", "scale": {"domain": [8.288, 10.6], "nice": false, "zero": false}, "axis": null}}},
   {"data": {"values": [{"label": "GBT mass HCG92"}]},
    "mark": {"type": "text", "align": "right", "baseline": "alphabetic", "font": "Liberation Serif", "fontSize": 25, "fill": "red"},
    "encoding": {"x": {"datum": 458.5, "type": "quantitative", "axis": null}, "y": {"datum": 10.344, "type": "quantitative", "axis": null}, "text": {"field": "label", "type": "nominal"}}},
   {"data": {"values": [{"label": "Simulated masses:"}]},
    "mark": {"type": "text", "align": "right", "baseline": "alphabetic", "font": "Liberation Serif", "fontSize": 25, "fill": "black"},
    "encoding": {"x": {"datum": 454.8, "type": "quantitative", "axis": null}, "y": {"datum": 10.153, "type": "quantitative", "axis": null}, "text": {"field": "label", "type": "nominal"}}},
   {"data": {"values": [{"label": "VLA HI map"}]},
    "mark": {"type": "text", "align": "left", "baseline": "alphabetic", "font": "Liberation Serif", "fontSize": 23.5, "fill": "blue"},
    "encoding": {"x": {"datum": 315.2, "type": "quantitative", "axis": null}, "y": {"datum": 9.959, "type": "quantitative", "axis": null}, "text": {"field": "label", "type": "nominal"}}},
   {"data": {"values": [{"label": "Point source"}]},
    "mark": {"type": "text", "align": "left", "baseline": "alphabetic", "font": "Liberation Serif", "fontSize": 23.5, "fill": "#2a9a2a"},
    "encoding": {"x": {"datum": 315.2, "type": "quantitative", "axis": null}, "y": {"datum": 9.768, "type": "quantitative", "axis": null}, "text": {"field": "label", "type": "nominal"}}},
   {"data": {"values": [{"label": "Circular source"}]},
    "mark": {"type": "text", "align": "left", "baseline": "alphabetic", "font": "Liberation Serif", "fontSize": 23.5, "fill": "#8e5434"},
    "encoding": {"x": {"datum": 315.2, "type": "quantitative", "axis": null}, "y": {"datum": 9.577, "type": "quantitative", "axis": null}, "text": {"field": "label", "type": "nominal"}}}
  ]
 }
]
}
